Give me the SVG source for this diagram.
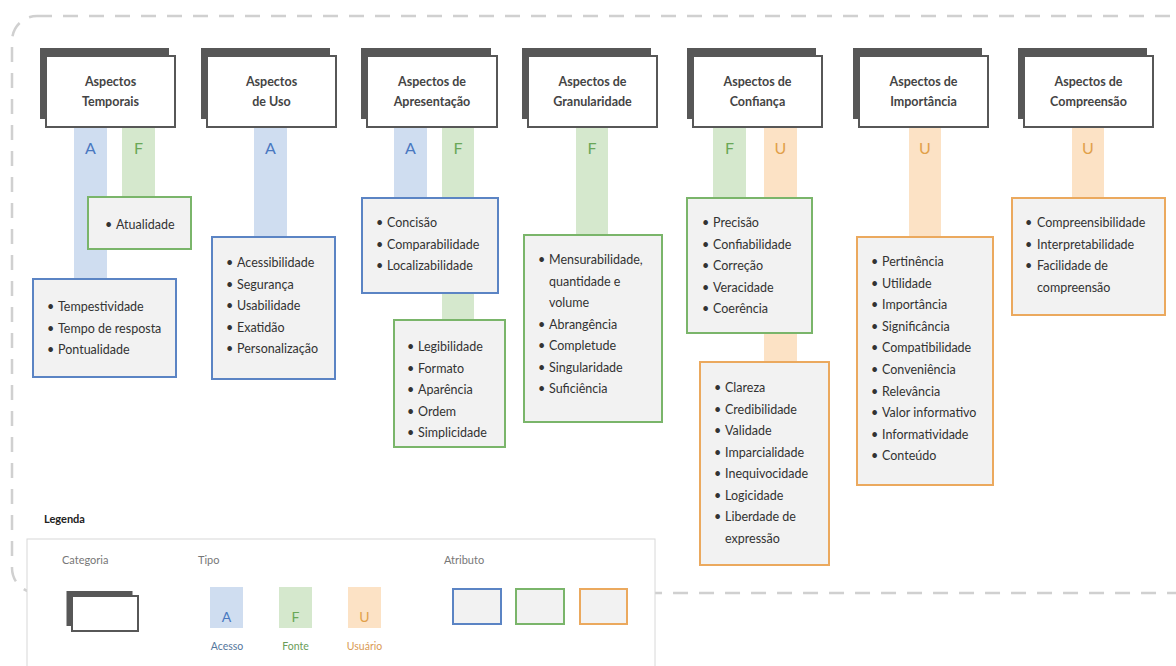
<svg xmlns="http://www.w3.org/2000/svg" width="1176" height="666" viewBox="0 0 1176 666">
<style>
text{font-family:Lato,"Noto Sans","Liberation Sans",sans-serif}
.cat-back{fill:#575757}
.cat-front{fill:#fff;stroke:#575757;stroke-width:2}
.cat-t{font-size:12.5px;font-weight:700;fill:#444;text-anchor:middle}
.bar-a{fill:#cfddf0}.bar-f{fill:#d5e8cd}.bar-u{fill:#fce2c5}
.ta{fill:#4a78c0}.tf{fill:#6aa757}.tu{fill:#e1a04a}
.tl{font-size:16px;text-anchor:middle}
.att{fill:#f2f2f2;stroke-width:2}
.sa{stroke:#5b84c4}.sf{stroke:#7ab56a}.su{stroke:#eba95e}
.it{font-size:12.5px;fill:#333}
.lg{font-size:11px;fill:#777}
.lgl{font-size:10.5px;text-anchor:middle}
</style>
<rect x="0" y="0" width="1176" height="666" fill="#fff"/>
<rect x="12" y="16" width="1230" height="577" rx="25" fill="none" stroke="#d0d0d0" stroke-width="2.5" stroke-dasharray="15 11"/>

<g id="connectors">
<rect class="bar-a" x="74" y="127" width="33" height="152"/><text class="tl ta" x="90.5" y="154">A</text>
<rect class="bar-f" x="122" y="127" width="33" height="70"/><text class="tl tf" x="138.5" y="154">F</text>
<rect class="bar-a" x="254" y="127" width="33" height="110"/><text class="tl ta" x="270.5" y="154">A</text>
<rect class="bar-a" x="394" y="127" width="33" height="71"/><text class="tl ta" x="410.5" y="154">A</text>
<rect class="bar-f" x="442" y="127" width="32" height="193"/><text class="tl tf" x="458" y="154">F</text>
<rect class="bar-f" x="576" y="127" width="32" height="108"/><text class="tl tf" x="592" y="154">F</text>
<rect class="bar-f" x="713" y="127" width="33" height="71"/><text class="tl tf" x="729.5" y="154">F</text>
<rect class="bar-u" x="764" y="127" width="33" height="235"/><text class="tl tu" x="780.5" y="154">U</text>
<rect class="bar-u" x="909" y="127" width="32" height="110"/><text class="tl tu" x="925" y="154">U</text>
<rect class="bar-u" x="1072" y="127" width="32" height="71"/><text class="tl tu" x="1088" y="154">U</text>
</g>

<g id="cat-temporais"><rect class="cat-back" x="40" y="48" width="129" height="71"/><rect class="cat-front" x="46" y="56" width="129" height="71"/><text class="cat-t" x="110.5" y="86">Aspectos</text><text class="cat-t" x="110.5" y="106">Temporais</text></g>
<g id="cat-uso"><rect class="cat-back" x="201" y="48" width="129" height="71"/><rect class="cat-front" x="207" y="56" width="129" height="71"/><text class="cat-t" x="271.5" y="86">Aspectos</text><text class="cat-t" x="271.5" y="106">de Uso</text></g>
<g id="cat-apresentacao"><rect class="cat-back" x="361" y="48" width="130" height="71"/><rect class="cat-front" x="367" y="56" width="130" height="71"/><text class="cat-t" x="432" y="86">Aspectos de</text><text class="cat-t" x="432" y="106">Apresentação</text></g>
<g id="cat-granularidade"><rect class="cat-back" x="522" y="48" width="129" height="71"/><rect class="cat-front" x="528" y="56" width="129" height="71"/><text class="cat-t" x="592.5" y="86">Aspectos de</text><text class="cat-t" x="592.5" y="106">Granularidade</text></g>
<g id="cat-confianca"><rect class="cat-back" x="687" y="48" width="129" height="71"/><rect class="cat-front" x="693" y="56" width="129" height="71"/><text class="cat-t" x="757.5" y="86">Aspectos de</text><text class="cat-t" x="757.5" y="106">Confiança</text></g>
<g id="cat-importancia"><rect class="cat-back" x="853" y="48" width="129" height="71"/><rect class="cat-front" x="859" y="56" width="129" height="71"/><text class="cat-t" x="923.5" y="86">Aspectos de</text><text class="cat-t" x="923.5" y="106">Importância</text></g>
<g id="cat-compreensao"><rect class="cat-back" x="1018" y="48" width="129" height="71"/><rect class="cat-front" x="1024" y="56" width="129" height="71"/><text class="cat-t" x="1088.5" y="86">Aspectos de</text><text class="cat-t" x="1088.5" y="106">Compreensão</text></g>

<g id="att-atualidade"><rect class="att sf" x="88" y="197" width="103" height="52"/>
<text class="it" y="229"><tspan x="105">•</tspan><tspan x="116">Atualidade</tspan></text></g>

<g id="att-tempestividade"><rect class="att sa" x="33" y="279" width="143" height="98"/>
<text class="it" y="311"><tspan x="47">•</tspan><tspan x="58">Tempestividade</tspan></text>
<text class="it" y="332.5"><tspan x="47">•</tspan><tspan x="58">Tempo de resposta</tspan></text>
<text class="it" y="354"><tspan x="47">•</tspan><tspan x="58">Pontualidade</tspan></text></g>

<g id="att-acessibilidade"><rect class="att sa" x="212" y="237" width="123" height="142"/>
<text class="it" y="267"><tspan x="226">•</tspan><tspan x="237">Acessibilidade</tspan></text>
<text class="it" y="288.5"><tspan x="226">•</tspan><tspan x="237">Segurança</tspan></text>
<text class="it" y="310"><tspan x="226">•</tspan><tspan x="237">Usabilidade</tspan></text>
<text class="it" y="331.5"><tspan x="226">•</tspan><tspan x="237">Exatidão</tspan></text>
<text class="it" y="353"><tspan x="226">•</tspan><tspan x="237">Personalização</tspan></text></g>

<g id="att-concisao"><rect class="att sa" x="362" y="198" width="136" height="95"/>
<text class="it" y="227"><tspan x="376">•</tspan><tspan x="387">Concisão</tspan></text>
<text class="it" y="248.5"><tspan x="376">•</tspan><tspan x="387">Comparabilidade</tspan></text>
<text class="it" y="270"><tspan x="376">•</tspan><tspan x="387">Localizabilidade</tspan></text></g>

<g id="att-legibilidade"><rect class="att sf" x="394" y="320" width="111" height="127"/>
<text class="it" y="351"><tspan x="407">•</tspan><tspan x="418">Legibilidade</tspan></text>
<text class="it" y="372.5"><tspan x="407">•</tspan><tspan x="418">Formato</tspan></text>
<text class="it" y="394"><tspan x="407">•</tspan><tspan x="418">Aparência</tspan></text>
<text class="it" y="415.5"><tspan x="407">•</tspan><tspan x="418">Ordem</tspan></text>
<text class="it" y="437"><tspan x="407">•</tspan><tspan x="418">Simplicidade</tspan></text></g>

<g id="att-mensurabilidade"><rect class="att sf" x="524" y="235" width="138" height="187"/>
<text class="it" y="264"><tspan x="538">•</tspan><tspan x="549">Mensurabilidade,</tspan></text>
<text class="it" x="549" y="285.5">quantidade e</text>
<text class="it" x="549" y="307">volume</text>
<text class="it" y="328.5"><tspan x="538">•</tspan><tspan x="549">Abrangência</tspan></text>
<text class="it" y="350"><tspan x="538">•</tspan><tspan x="549">Completude</tspan></text>
<text class="it" y="371.5"><tspan x="538">•</tspan><tspan x="549">Singularidade</tspan></text>
<text class="it" y="393"><tspan x="538">•</tspan><tspan x="549">Suficiência</tspan></text></g>

<g id="att-precisao"><rect class="att sf" x="687" y="198" width="125" height="135"/>
<text class="it" y="227"><tspan x="702">•</tspan><tspan x="713">Precisão</tspan></text>
<text class="it" y="248.5"><tspan x="702">•</tspan><tspan x="713">Confiabilidade</tspan></text>
<text class="it" y="270"><tspan x="702">•</tspan><tspan x="713">Correção</tspan></text>
<text class="it" y="291.5"><tspan x="702">•</tspan><tspan x="713">Veracidade</tspan></text>
<text class="it" y="313"><tspan x="702">•</tspan><tspan x="713">Coerência</tspan></text></g>

<g id="att-clareza"><rect class="att su" x="700" y="362" width="129" height="203"/>
<text class="it" y="392"><tspan x="714">•</tspan><tspan x="725">Clareza</tspan></text>
<text class="it" y="413.5"><tspan x="714">•</tspan><tspan x="725">Credibilidade</tspan></text>
<text class="it" y="435"><tspan x="714">•</tspan><tspan x="725">Validade</tspan></text>
<text class="it" y="456.5"><tspan x="714">•</tspan><tspan x="725">Imparcialidade</tspan></text>
<text class="it" y="478"><tspan x="714">•</tspan><tspan x="725">Inequivocidade</tspan></text>
<text class="it" y="499.5"><tspan x="714">•</tspan><tspan x="725">Logicidade</tspan></text>
<text class="it" y="521"><tspan x="714">•</tspan><tspan x="725">Liberdade de</tspan></text>
<text class="it" x="725" y="542.5">expressão</text></g>

<g id="att-pertinencia"><rect class="att su" x="857" y="237" width="136" height="248"/>
<text class="it" y="266"><tspan x="871">•</tspan><tspan x="882">Pertinência</tspan></text>
<text class="it" y="287.6"><tspan x="871">•</tspan><tspan x="882">Utilidade</tspan></text>
<text class="it" y="309.2"><tspan x="871">•</tspan><tspan x="882">Importância</tspan></text>
<text class="it" y="330.8"><tspan x="871">•</tspan><tspan x="882">Significância</tspan></text>
<text class="it" y="352.4"><tspan x="871">•</tspan><tspan x="882">Compatibilidade</tspan></text>
<text class="it" y="374"><tspan x="871">•</tspan><tspan x="882">Conveniência</tspan></text>
<text class="it" y="395.6"><tspan x="871">•</tspan><tspan x="882">Relevância</tspan></text>
<text class="it" y="417.2"><tspan x="871">•</tspan><tspan x="882">Valor informativo</tspan></text>
<text class="it" y="438.8"><tspan x="871">•</tspan><tspan x="882">Informatividade</tspan></text>
<text class="it" y="460.4"><tspan x="871">•</tspan><tspan x="882">Conteúdo</tspan></text></g>

<g id="att-compreensibilidade"><rect class="att su" x="1012" y="198" width="153" height="117"/>
<text class="it" y="227"><tspan x="1025">•</tspan><tspan x="1037">Compreensibilidade</tspan></text>
<text class="it" y="248.5"><tspan x="1025">•</tspan><tspan x="1037">Interpretabilidade</tspan></text>
<text class="it" y="270"><tspan x="1025">•</tspan><tspan x="1037">Facilidade de</tspan></text>
<text class="it" x="1037" y="291.5">compreensão</text></g>

<g id="legend">
<text x="44" y="523" font-size="11" font-weight="700" fill="#222">Legenda</text>
<rect x="27" y="539" width="628" height="150" fill="#fff" stroke="#d8d8d8" stroke-width="1"/>
<text class="lg" x="62" y="564">Categoria</text>
<text class="lg" x="198" y="564">Tipo</text>
<text class="lg" x="444" y="564">Atributo</text>
<rect class="cat-back" x="66.5" y="591" width="66" height="35"/>
<rect class="cat-front" x="72" y="596" width="66" height="35"/>
<rect class="bar-a" x="210" y="587" width="33" height="41"/><text class="ta" x="226.5" y="622" font-size="14" text-anchor="middle">A</text>
<text class="lgl" x="227" y="650" fill="#55779c">Acesso</text>
<rect class="bar-f" x="279" y="587" width="33" height="41"/><text class="tf" x="295.5" y="622" font-size="14" text-anchor="middle">F</text>
<text class="lgl" x="295.5" y="650" fill="#6a9c58">Fonte</text>
<rect class="bar-u" x="348" y="587" width="33" height="41"/><text class="tu" x="364.5" y="622" font-size="14" text-anchor="middle">U</text>
<text class="lgl" x="364.5" y="650" fill="#d99a55">Usuário</text>
<rect class="att sa" x="453" y="589" width="48" height="35"/>
<rect class="att sf" x="516" y="589" width="48" height="35"/>
<rect class="att su" x="580" y="589" width="47" height="35"/>
</g>
</svg>
